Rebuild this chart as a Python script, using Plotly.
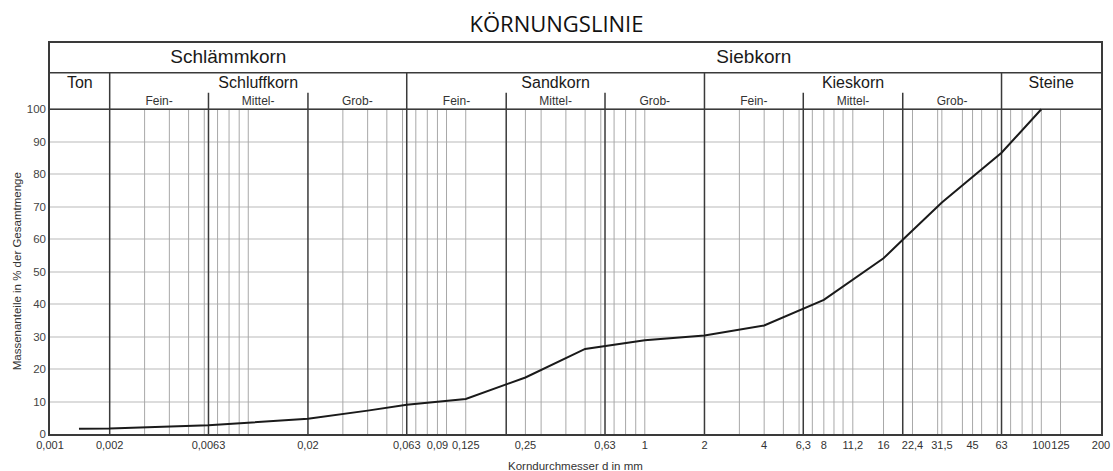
import math
import plotly.graph_objects as go

# ---- data ----
grain_size_mm = [0.0014, 0.002, 0.0063, 0.01, 0.02, 0.04, 0.063, 0.125, 0.25, 0.5, 1, 2, 4, 8, 16, 20, 31.5, 63, 100]
passing_pct = [1.6, 1.7, 2.7, 3.5, 4.7, 7.2, 9.0, 10.8, 17.4, 26.2, 28.9, 30.3, 33.4, 41.3, 54.1, 59.8, 71.3, 86.6, 100]

tick_vals = [0.001, 0.002, 0.0063, 0.02, 0.063, 0.09, 0.125, 0.25, 0.63, 1, 2, 4, 6.3, 8, 11.2, 16, 22.4, 31.5, 45, 63, 100, 125, 200]
tick_text = ["0,001", "0,002", "0,0063", "0,02", "0,063", "0,09", "0,125", "0,25", "0,63", "1", "2", "4", "6,3", "8", "11,2", "16", "22,4", "31,5", "45", "63", "100", "125", "200"]

minor_lines = [0.003, 0.004, 0.005, 0.006, 0.007, 0.008, 0.009, 0.01,
               0.03, 0.04, 0.05, 0.06, 0.07, 0.08, 0.09, 0.1, 0.125,
               0.25, 0.3, 0.4, 0.5, 0.6, 0.7, 0.8, 0.9, 1,
               3, 4, 5, 6, 7, 8, 9, 10, 11.2, 16,
               22.4, 30, 31.5, 40, 45, 50, 60, 70, 80, 90, 100, 125]
main_bounds = [0.002, 0.063, 2, 63]
sub_bounds = [0.0063, 0.02, 0.2, 0.63, 6.3, 20]

group_labels = ["Schlämmkorn", "Siebkorn"]
group_ranges = [(0.001, 0.063), (0.063, 200)]
class_labels = ["Ton", "Schluffkorn", "Sandkorn", "Kieskorn", "Steine"]
class_ranges = [(0.001, 0.002), (0.002, 0.063), (0.063, 2), (2, 63), (63, 200)]
sub_labels = ["Fein-", "Mittel-", "Grob-"] * 3
sub_ranges = [(0.002, 0.0063), (0.0063, 0.02), (0.02, 0.063),
              (0.063, 0.2), (0.2, 0.63), (0.63, 2),
              (2, 6.3), (6.3, 20), (20, 63)]
y_ticks = [0, 10, 20, 30, 40, 50, 60, 70, 80, 90, 100]

# header levels (in y units)
Y_TOP = 120.4
Y_ROW1 = 111.27
Y_SUB = 105.1

DARK = "#3a3a3a"
MINOR = "#a8a8a8"
FONT = "Liberation Sans, Arial, sans-serif"


def gm(a, b):
    return math.sqrt(a * b)


def vlines(xs, y0, y1):
    X, Y = [], []
    for v in xs:
        X += [v, v, None]
        Y += [y0, y1, None]
    return X, Y


fig = go.Figure()

mx, my = vlines(minor_lines, 0, 100)
fig.add_trace(go.Scatter(x=mx, y=my, mode="lines", line=dict(color=MINOR, width=1),
                         hoverinfo="skip", showlegend=False))
sx, sy = vlines(sub_bounds, 0, Y_SUB)
fig.add_trace(go.Scatter(x=sx, y=sy, mode="lines", line=dict(color=DARK, width=1.5),
                         hoverinfo="skip", showlegend=False))
bx, by = vlines(main_bounds, 0, Y_ROW1)
fig.add_trace(go.Scatter(x=bx, y=by, mode="lines", line=dict(color=DARK, width=1.5),
                         hoverinfo="skip", showlegend=False))
fig.add_trace(go.Scatter(x=[0.001, 200, None, 0.001, 200], y=[100, 100, None, Y_ROW1, Y_ROW1],
                         mode="lines", line=dict(color=DARK, width=1.5),
                         hoverinfo="skip", showlegend=False))

# curve
fig.add_trace(go.Scatter(x=grain_size_mm, y=passing_pct, mode="lines",
                         line=dict(color="#1a1a1a", width=2), showlegend=False))

# header text
fig.add_trace(go.Scatter(x=[gm(*r) for r in group_ranges], y=[115.6] * 2, mode="text",
                         text=group_labels, textfont=dict(family=FONT, size=19, color="#1a1a1a"),
                         hoverinfo="skip", showlegend=False))
fig.add_trace(go.Scatter(x=[gm(*r) for r in class_ranges], y=[107.7] * 5, mode="text",
                         text=class_labels, textfont=dict(family=FONT, size=16, color="#1a1a1a"),
                         hoverinfo="skip", showlegend=False))
fig.add_trace(go.Scatter(x=[gm(*r) for r in sub_ranges], y=[102.3] * 9, mode="text",
                         text=sub_labels, textfont=dict(family=FONT, size=12, color="#333333"),
                         hoverinfo="skip", showlegend=False))

fig.update_layout(
    width=1113, height=471,
    margin=dict(l=50, r=12, t=43, b=37),
    paper_bgcolor="white", plot_bgcolor="white",
    title=dict(text="KÖRNUNGSLINIE", x=0.5, xref="container", xanchor="center",
               y=1 - 24 / 471, yref="container", yanchor="middle",
               font=dict(family="Open Sans, sans-serif", size=22, color="#111111")),
    xaxis=dict(type="log", range=[math.log10(0.001), math.log10(200)],
               tickmode="array", tickvals=tick_vals, ticktext=tick_text, tickangle=0,
               automargin=False,
               showgrid=False, zeroline=False, showline=True, mirror=True,
               linecolor=DARK, linewidth=1.5, ticks="",
               tickfont=dict(family=FONT, size=11, color="#333333")),
    yaxis=dict(range=[0, Y_TOP], tickmode="array", tickvals=y_ticks, automargin=False,
               showgrid=True, gridcolor="#dcdcdc", gridwidth=1.5, zeroline=False,
               showline=True, mirror=True, linecolor=DARK, linewidth=1.5, ticks="",
               tickfont=dict(family=FONT, size=11.5, color="#444444")),
    annotations=[
        dict(text="Massenanteile in % der Gesamtmenge", xref="paper", yref="y",
             x=-0.0317, y=50, textangle=-90, showarrow=False, xanchor="center", yanchor="middle",
             font=dict(family=FONT, size=11.5, color="#333333")),
        dict(text="Korndurchmesser d in mm", xref="paper", yref="paper",
             x=0.5, y=-0.0808, showarrow=False, xanchor="center", yanchor="middle",
             font=dict(family=FONT, size=11.5, color="#333333")),
    ],
)

fig.write_html("out.html")
